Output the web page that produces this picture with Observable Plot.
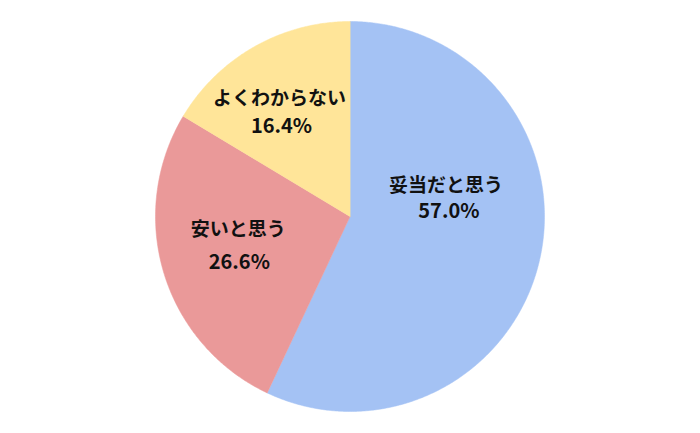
<!DOCTYPE html>
<html>
<head>
<meta charset="utf-8">
<script src="https://cdn.jsdelivr.net/npm/d3@7"></script>
<script src="https://cdn.jsdelivr.net/npm/@observablehq/plot@0.6"></script>
<style>
  html, body { margin: 0; padding: 0; background: #fff; }
</style>
</head>
<body>
<div id="chart"></div>
<script>
// ---- data ----
const categories = ["妥当だと思う", "安いと思う", "よくわからない"];
const shares = [57.0, 26.6, 16.4];
const pctLabels = ["57.0%", "26.6%", "16.4%"];
const colors = ["#a4c2f4", "#ea9999", "#ffe599"];

// ---- layout (pixel nudges for label lines, relative to the mid-angle anchor) ----
const labelRadius = 0.6;
const nudges = [
  {name: [-18, -56], pct: [-15, -30]},
  {name: [0, -21], pct: [1, 12]},
  {name: [-13, -16], pct: [-11, 12]}
];

const rows = categories.map((c, i) => ({name: c, value: shares[i], pct: pctLabels[i]}));
const arcs = d3.pie().sort(null).value(d => d.value)(rows);

// slice outlines in unit-circle coordinates
const pts = [];
arcs.forEach(a => {
  const name = a.data.name;
  pts.push({name, x: 0, y: 0});
  const n = Math.max(2, Math.ceil((a.endAngle - a.startAngle) / (Math.PI / 360)));
  for (let k = 0; k <= n; k++) {
    const t = a.startAngle + (a.endAngle - a.startAngle) * k / n;
    pts.push({name, x: Math.sin(t), y: Math.cos(t)});
  }
});

const anchors = arcs.map(a => {
  const m = (a.startAngle + a.endAngle) / 2;
  return {name: a.data.name, pct: a.data.pct, x: labelRadius * Math.sin(m), y: labelRadius * Math.cos(m)};
});

const textStyle = {fontWeight: "bold", fill: "#111"};

const labelMarks = anchors.flatMap((a, i) => [
  Plot.text([a], {x: "x", y: "y", text: "name", dx: nudges[i].name[0], dy: nudges[i].name[1], fontSize: 19, ...textStyle}),
  Plot.text([a], {x: "x", y: "y", text: "pct", dx: nudges[i].pct[0], dy: nudges[i].pct[1], fontSize: 20, ...textStyle, letterSpacing: "2px"})
]);

const chart = Plot.plot({
  width: 700,
  height: 433,
  marginLeft: 155,
  marginRight: 156,
  marginTop: 21,
  marginBottom: 22,
  x: {domain: [-1, 1], axis: null},
  y: {domain: [-1, 1], axis: null},
  color: {domain: categories, range: colors},
  style: {fontFamily: "'Noto Sans CJK JP', 'Noto Sans', sans-serif", background: "#fff"},
  marks: [
    Plot.line(pts, {x: "x", y: "y", z: "name", fill: "name", stroke: "name", strokeWidth: 0.5, curve: "linear-closed"}),
    ...labelMarks
  ]
});
document.getElementById("chart").appendChild(chart);
</script>
</body>
</html>
